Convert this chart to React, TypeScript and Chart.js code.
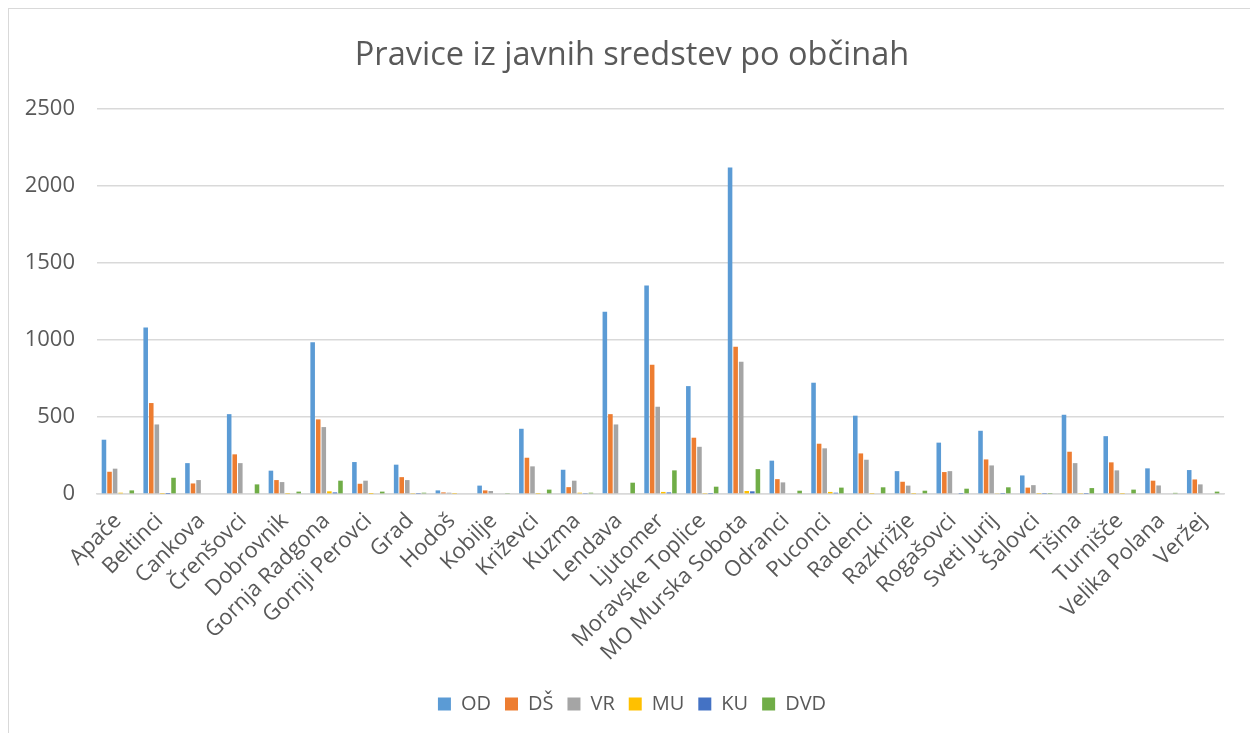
import React, { useEffect, useRef } from "react";
import { Chart, registerables } from "chart.js";

Chart.register(...registerables);

const categories = [
  "Apače", "Beltinci", "Cankova", "Črenšovci", "Dobrovnik", "Gornja Radgona",
  "Gornji Perovci", "Grad", "Hodoš", "Kobilje", "Križevci", "Kuzma", "Lendava",
  "Ljutomer", "Moravske Toplice", "MO Murska Sobota", "Odranci", "Puconci",
  "Radenci", "Razkrižje", "Rogašovci", "Sveti Jurij", "Šalovci", "Tišina",
  "Turnišče", "Velika Polana", "Veržej",
];

const OD = [353, 1082, 201, 519, 152, 985, 208, 191, 24, 55, 424, 158, 1184, 1354, 701, 2120, 217, 723, 509, 149, 334, 411, 121, 515, 376, 167, 156];
const DS = [145, 591, 69, 258, 91, 485, 67, 110, 11, 24, 236, 45, 519, 840, 366, 956, 97, 327, 264, 80, 143, 225, 42, 275, 206, 87, 95];
const VR = [165, 452, 91, 201, 78, 435, 87, 91, 9, 20, 180, 87, 452, 567, 307, 859, 76, 297, 223, 55, 149, 186, 58, 201, 154, 56, 63];
const MU = [9, 2, 0, 0, 2, 18, 1, 3, 2, 0, 2, 9, 0, 14, 7, 20, 0, 14, 2, 2, 5, 6, 2, 3, 2, 0, 0];
const KU = [5, 1, 0, 0, 0, 11, 0, 2, 0, 0, 0, 3, 0, 11, 2, 18, 0, 9, 0, 0, 2, 2, 2, 2, 0, 0, 0];
const DVD = [24, 106, 5, 63, 16, 87, 16, 9, 0, 3, 29, 9, 74, 154, 48, 162, 22, 42, 44, 22, 35, 44, 2, 39, 29, 8, 16];

const seriesNames = ["OD", "DŠ", "VR", "MU", "KU", "DVD"];
const seriesColors = ["#5B9BD5", "#ED7D31", "#A5A5A5", "#FFC000", "#4472C4", "#70AD47"];
const seriesValues = [OD, DS, VR, MU, KU, DVD];

const yTicks = [0, 500, 1000, 1500, 2000, 2500];
const title = "Pravice iz javnih sredstev po občinah";

const FONT = "'Open Sans', sans-serif";
const TEXT = "#595959";
const GRID = "#d9d9d9";

export default function App() {
  const ref = useRef<HTMLCanvasElement | null>(null);

  useEffect(() => {
    if (!ref.current) return;
    const chart = new Chart(ref.current, {
      type: "bar",
      data: {
        labels: categories,
        datasets: seriesNames.map((name, i) => ({
          label: name,
          data: seriesValues[i],
          backgroundColor: seriesColors[i],
          borderWidth: 0,
          categoryPercentage: 0.8,
          barPercentage: 0.82,
        })),
      },
      options: {
        animation: false,
        responsive: false,
        maintainAspectRatio: false,
        layout: { padding: { left: 16, right: 20, top: 0, bottom: 9 } },
        plugins: {
          title: {
            display: true,
            text: title,
            color: TEXT,
            font: { family: FONT, size: 32.5, weight: "normal" },
            padding: { top: 36, bottom: 34 },
          },
          legend: {
            position: "bottom",
            labels: {
              color: TEXT,
              font: { family: FONT, size: 20 },
              boxWidth: 13,
              boxHeight: 13,
              padding: 14,
            },
          },
          tooltip: { enabled: false },
        },
        scales: {
          x: {
            grid: { display: false, drawTicks: false },
            border: { color: GRID, width: 1.5 },
            afterFit: (scale: any) => {
              scale.paddingLeft = 0;
              scale.paddingRight = 35;
            },
            ticks: {
              color: TEXT,
              font: { family: FONT, size: 22 },
              minRotation: 45,
              maxRotation: 45,
              autoSkip: false,
              padding: 14,
            },
          },
          y: {
            min: 0,
            max: 2500,
            afterBuildTicks: (axis: any) => {
              axis.ticks = yTicks.map((v) => ({ value: v }));
            },
            afterFit: (scale: any) => {
              scale.width = 72;
            },
            grid: { color: GRID, lineWidth: 1.5, drawTicks: false },
            border: { display: false },
            ticks: {
              color: TEXT,
              font: { family: FONT, size: 22 },
              padding: 22,
              callback: (v: any) => String(v),
            },
          },
        },
      },
    });
    return () => chart.destroy();
  }, []);

  return (
    <div style={{ position: "fixed", left: 0, top: 0, width: 1250, height: 733, overflow: "hidden", background: "#fff" }}>
      <div
        style={{
          position: "absolute",
          left: 8,
          top: 8,
          width: 1300,
          height: 800,
          borderLeft: "1.5px solid #d9d9d9",
          borderTop: "1.5px solid #d9d9d9",
        }}
      />
      <canvas ref={ref} width={1250} height={733} style={{ position: "absolute", left: 9, top: 0, width: 1250, height: 733 }} />
    </div>
  );
}
